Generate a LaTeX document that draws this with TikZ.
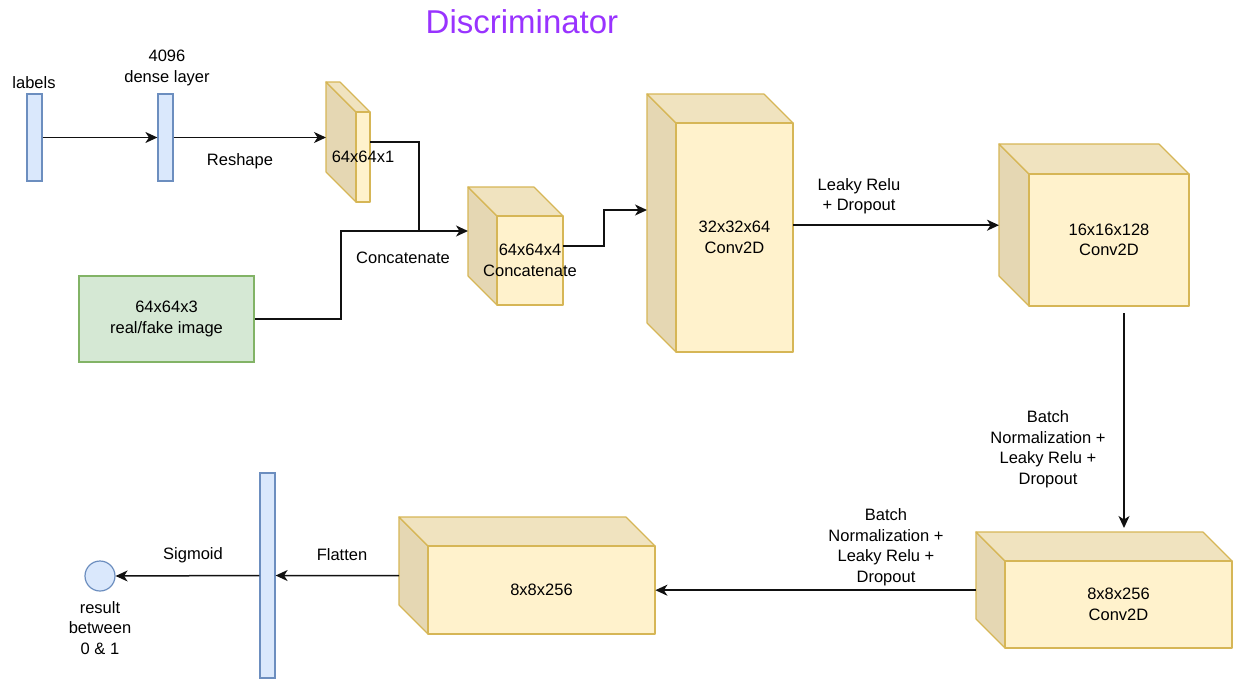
\documentclass[tikz,border=0pt]{standalone}
\usepackage{fontspec}
\setmainfont{Liberation Sans}
\usetikzlibrary{arrows.meta}

\definecolor{cubefront}{HTML}{FFF2CC}
\definecolor{cubetop}{HTML}{F0E3BF}
\definecolor{cubeside}{HTML}{E5D7B3}
\definecolor{cubeline}{HTML}{D6B656}
\definecolor{barfill}{HTML}{DAE8FC}
\definecolor{barline}{HTML}{6C8EBF}
\definecolor{imgfill}{HTML}{D5E8D4}
\definecolor{imgline}{HTML}{82B366}
\definecolor{titlecol}{HTML}{9933FF}
\definecolor{wire}{HTML}{111111}

\tikzset{
  txt/.style={align=center, inner sep=0pt, font=\fontsize{16.5}{20.5}\selectfont},
  cubeedge/.style={draw=cubeline, line width=1.2pt, line join=round},
  barbox/.style={draw=barline, fill=barfill, line width=1.2pt, inner sep=0pt},
  arr/.style={draw=wire, line width=1.5pt, -{Stealth[length=12pt, width=11pt, inset=3.5pt]}},
  plain/.style={draw=wire, line width=1.5pt},
}

% 3D block: name, x, y (top-left of back face), width, height, depth, label
\newcommand\cubeblock[7]{%
  \node[inner sep=0pt, minimum width=#4pt, minimum height=#5pt, anchor=north west] (#1) at (#2,#3) {};
  \filldraw[cubeedge, fill=cubeside] (#2,#3) -- (#2+#6,#3+#6) -- (#2+#6,#3+#5) -- (#2,#3+#5-#6) -- cycle;
  \filldraw[cubeedge, fill=cubetop] (#2,#3) -- (#2+#4-#6,#3) -- (#2+#4,#3+#6) -- (#2+#6,#3+#6) -- cycle;
  \filldraw[cubeedge, fill=cubefront] (#2+#6,#3+#6) rectangle (#2+#4,#3+#5);
  \node[txt] (#1-text) at ({#2+#6+(#4-#6)/2},{#3+#6+(#5-#6)/2}) {#7};
}

\begin{document}
\begin{tikzpicture}[x=1pt, y=-1pt]
\useasboundingbox (0,0) rectangle (1243,680);

% title
\node[text=titlecol, inner sep=0pt, font=\fontsize{33}{40}\selectfont] (title) at (522,22) {Discriminator};

% input bars
\node[barbox, minimum width=15pt, minimum height=87pt] (lab) at (34.5,137.5) {};
\node[txt] (labtxt) at (34,83) {labels};
\node[barbox, minimum width=15pt, minimum height=87pt] (dense) at (165.5,137.5) {};
\node[txt] (densetxt) at (167,68) {4096\\dense layer};

% image input
\node[txt, draw=imgline, fill=imgfill, line width=1.2pt, minimum width=175pt, minimum height=86pt] (img) at (166.5,319) {64x64x3\\real/fake image};

% 3D blocks
\cubeblock{c1}{326}{82}{44}{120}{30}{64x64x1}
\cubeblock{cc}{468}{187}{95}{118}{29}{64x64x4\\Concatenate}
\cubeblock{c32}{647}{94}{146}{258}{29}{32x32x64\\Conv2D}
\cubeblock{c16}{999}{144}{190}{162}{30}{16x16x128\\Conv2D}
\cubeblock{c8b}{976}{532}{256}{116}{29}{8x8x256\\Conv2D}
\cubeblock{c8a}{399}{517}{256}{117}{29}{8x8x256}

% flatten bar and output
\node[barbox, minimum width=15pt, minimum height=205pt] (flat) at (267.5,575.5) {};
\node[circle, barbox, minimum size=30pt] (out) at (100,576) {};
\node[txt] (outtxt) at (100,628) {result\\between\\0 \& 1};

% routing points
\coordinate (cj) at (419,231);
\coordinate (imgturn) at (341,231);
\coordinate (ccturn) at (604,210);
\coordinate (down) at (1124,313);
\coordinate (downend) at (1124,528);

% connectors
\draw[arr] (lab.east) -- (dense.west);
\draw[arr] (dense.east) -- (dense.east -| c1.west);
\draw[plain] (c1.east) -| (cj);
\draw[arr] (img.east) -| (imgturn) -- (imgturn -| cc.west);
\draw[arr] (cc.east) -| (ccturn) -- (ccturn -| c32.west);
\draw[arr] (c16.west -| c32.east) -- (c16.west);
\draw[arr] (down) -- (downend);
\draw[arr] (c8b.west) -- (c8b.west -| c8a.east);
\draw[arr] (c8a.west) -- (flat.east);
\draw[arr] (flat.west) -- (out.east);

% connector labels
\node[txt] (reshape) at (240,161) {Reshape};
\node[txt] (concat) at (403,258) {Concatenate};
\node[txt] (lr1) at (859,196) {Leaky Relu\\+ Dropout};
\node[txt] (bn1) at (1048,449) {Batch\\Normalization +\\Leaky Relu +\\Dropout};
\node[txt] (bn2) at (886,547) {Batch\\Normalization +\\Leaky Relu +\\Dropout};
\node[txt] (flattxt) at (342,555) {Flatten};
\node[txt] (sigtxt) at (193,555) {Sigmoid};
\end{tikzpicture}
\end{document}
